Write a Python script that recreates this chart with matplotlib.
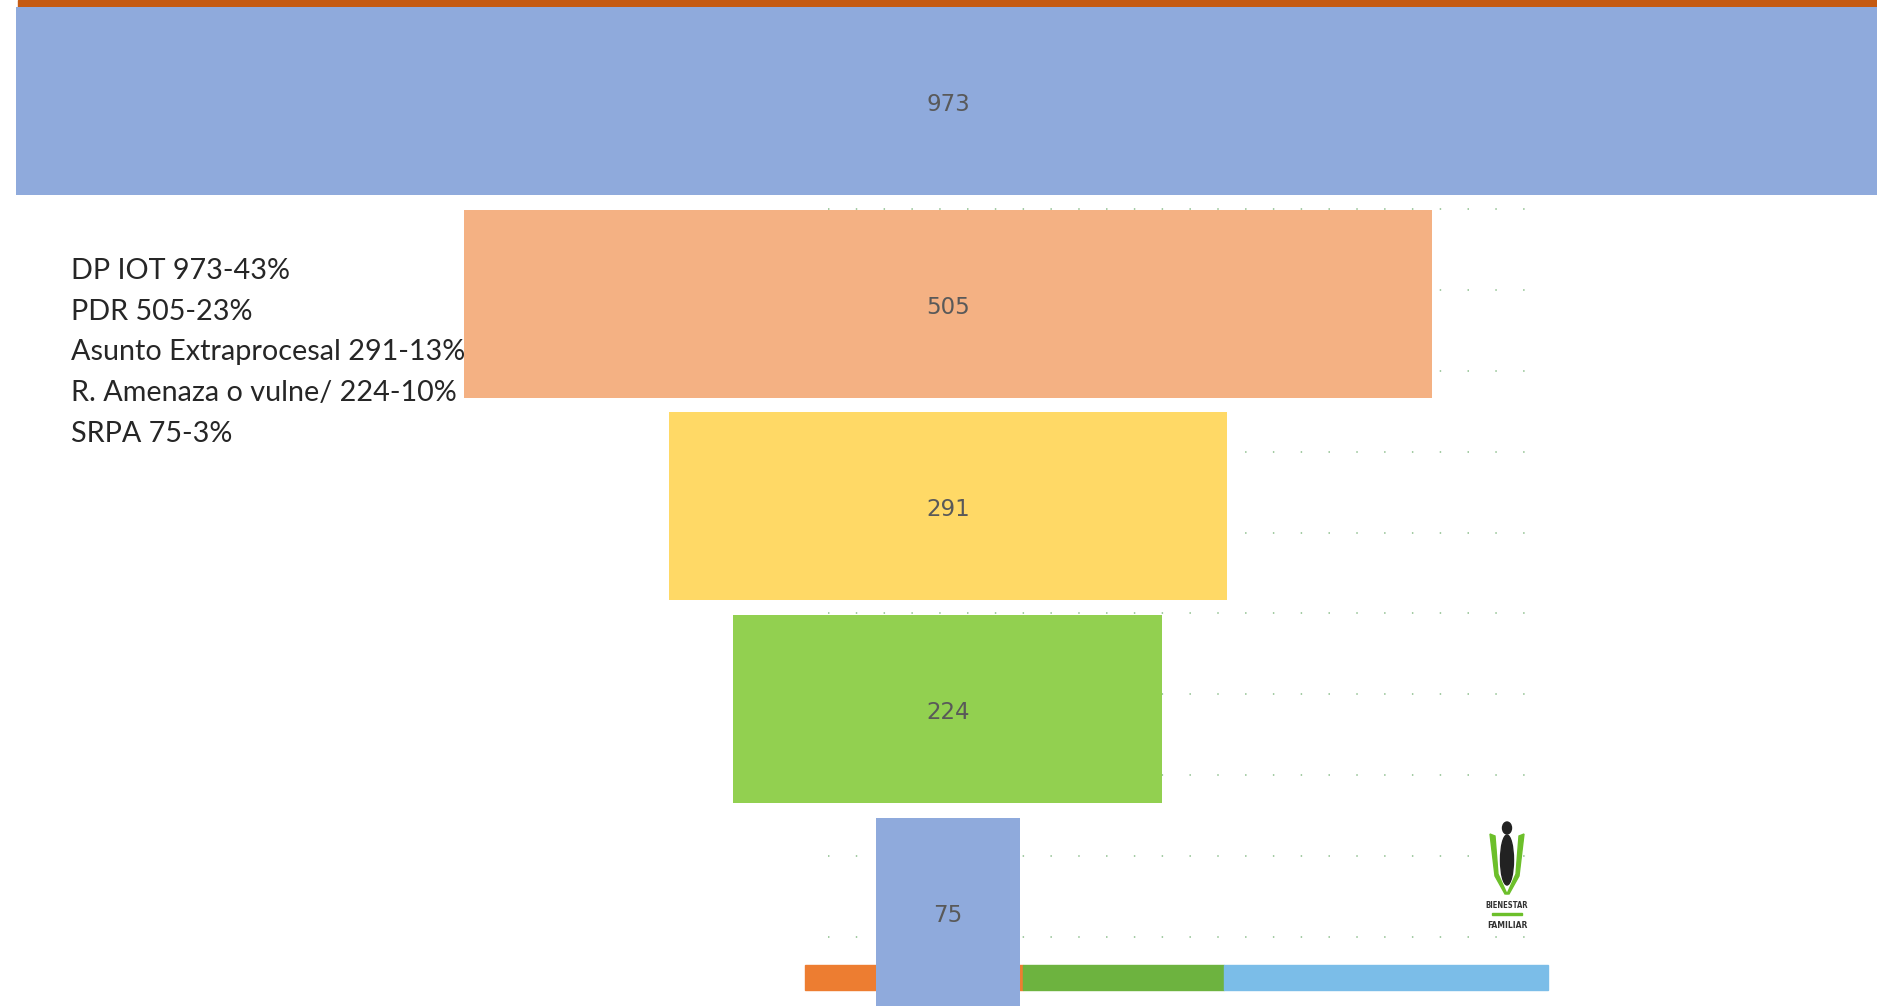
import matplotlib
matplotlib.use("Agg")
import matplotlib.pyplot as plt
from matplotlib.patches import Rectangle, Polygon, Ellipse

# ---- data ----
categories = ["DP IOT", "PDR", "Asunto Extraprocesal", "R. Amenaza o vulne/", "SRPA"]
values = [973, 505, 291, 224, 75]
percents = [43, 23, 13, 10, 3]
bar_colors = ["#8FAADC", "#F4B183", "#FFD966", "#92D050", "#8FAADC"]

W, H = 1877, 1006
fig = plt.figure(figsize=(W / 100, H / 100), dpi=100)
fig.patch.set_facecolor("white")

# background dotted grid (decoration of the slide)
gax = fig.add_axes([828 / W, (H - 938) / H, (1532 - 828) / W, (938 - 208) / H], zorder=0)
gax.set_xlim(0, 1)
gax.set_ylim(-0.01, 9.01)
gax.set_yticks(range(10))
gax.set_xticks([])
gax.tick_params(length=0, labelleft=False, labelbottom=False)
for s in gax.spines.values():
    s.set_visible(False)
gax.patch.set_alpha(0)
gax.grid(axis="y", color="#9cc79c", linewidth=1.3, linestyle=(0, (0.8, 14.6)))

# decorative stripes of the slide
fig.add_artist(Rectangle((18 / W, (H - 7) / H), 1 - 18 / W, 7 / H,
                         transform=fig.transFigure, color="#C55A11", zorder=1))
stripe = [(805, 1023, "#ED7D31"), (1023, 1224, "#6DB33F"), (1224, 1548, "#7BBDE8")]
for x0, x1, c in stripe:
    fig.add_artist(Rectangle((x0 / W, (H - 990) / H), (x1 - x0) / W, 25 / H,
                             transform=fig.transFigure, color=c, zorder=1))

# ---- funnel ----
ax = fig.add_axes([0, 0, 1, 1], zorder=2)
ax.patch.set_alpha(0)
y = list(range(len(values)))
lefts = [-v / 2 for v in values]
ax.barh(y, values, left=lefts, height=0.927, color=bar_colors, zorder=3)
for yi, v in zip(y, values):
    ax.annotate(str(v), (0, yi), xytext=(0, -2.5), textcoords="offset points",
                ha="center", va="center", fontsize=16.5, color="#595959",
                family=["Liberation Sans Narrow", "DejaVu Sans"], zorder=4)
ax.set_xlim(-495, 485.1)
ax.set_ylim(4.464, -0.498)
ax.axis("off")

# text block
lines = [f"{c} {v}-{p}%" for c, v, p in zip(categories, values, percents)]
for i, t in enumerate(lines):
    fig.text(71 / W, (H - 271 - i * 40.7) / H, t, ha="left", va="center",
             fontsize=20.7, color="#262626", family=["Lato", "DejaVu Sans"], zorder=10)

# small logo
lax = fig.add_axes([1486 / W, (H - 936) / H, 42 / W, 118 / H], zorder=5)
lax.set_xlim(0, 42)
lax.set_ylim(0, 118)
lax.axis("off")
lax.add_patch(Polygon([[4, 102], [9, 60], [19, 42], [21, 42], [12, 62], [9, 100]],
                      closed=True, color="#6cbf2a"))
lax.add_patch(Polygon([[38, 102], [33, 60], [23, 42], [21, 42], [30, 62], [33, 100]],
                      closed=True, color="#6cbf2a"))
lax.add_patch(Ellipse((21, 76), 13, 50, color="#222222"))
lax.add_patch(Ellipse((21, 108), 9, 12, color="#222222"))
lax.add_patch(Rectangle((6, 21), 30, 1.8, color="#6cbf2a"))
lax.text(21, 30, "BIENESTAR", ha="center", va="center", fontsize=5.5,
         color="#333333", fontweight="bold", stretch="condensed")
lax.text(21, 11, "FAMILIAR", ha="center", va="center", fontsize=5.5,
         color="#333333", fontweight="bold")

fig.savefig("out.png", dpi=100, facecolor="white")
